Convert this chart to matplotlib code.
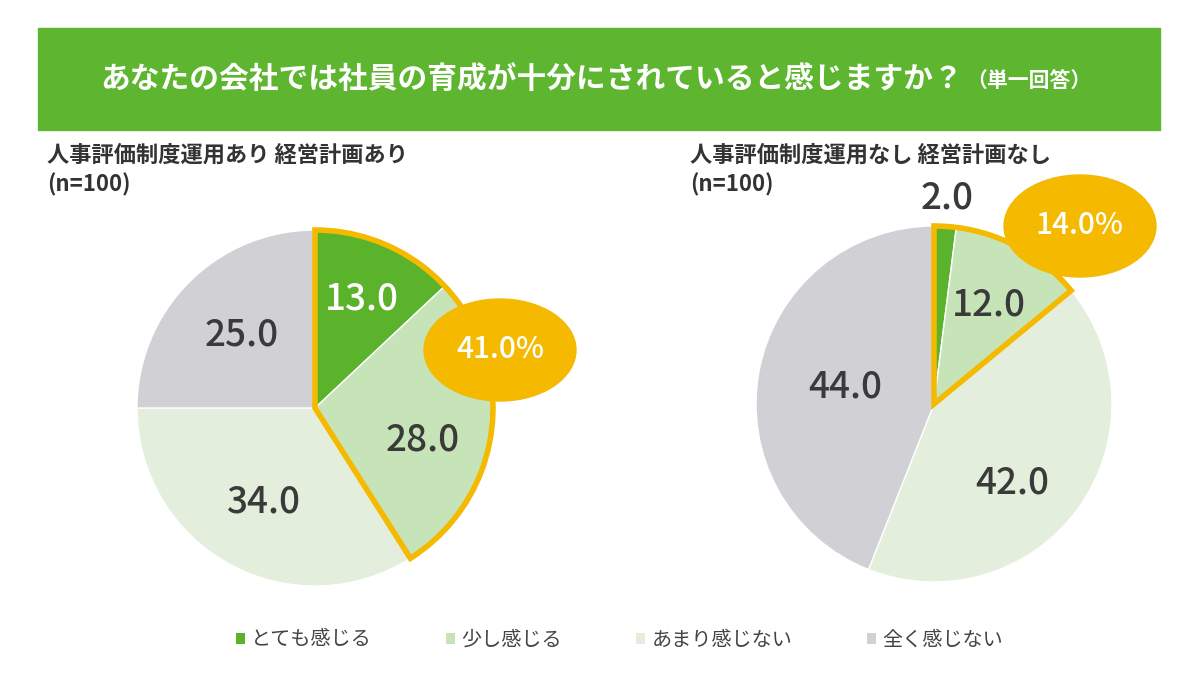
import numpy as np
import matplotlib
matplotlib.use('Agg')
import matplotlib.pyplot as plt
from matplotlib.patches import Rectangle, Wedge, Ellipse, Patch

plt.rcParams['font.family'] = ['Noto Sans CJK JP', 'DejaVu Sans']

# データ
title = 'あなたの会社では社員の育成が十分にされていると感じますか？'
title_note = '（単一回答）'
categories = ['とても感じる', '少し感じる', 'あまり感じない', '全く感じない']
group_names = ['人事評価制度運用あり 経営計画あり', '人事評価制度運用なし 経営計画なし']
sample_sizes = [100, 100]
with_system = [13.0, 28.0, 34.0, 25.0]
without_system = [2.0, 12.0, 42.0, 44.0]

# スタイル
colors = ['#5BB32B', '#C6E4B8', '#E3EFDC', '#D1D0D5']
green = '#5DB530'
yellow = '#F5B900'
text_dark = '#3A3A3A'

W, H = 1200, 675
fig = plt.figure(figsize=(12, 6.75), dpi=100)
ax = fig.add_axes([0, 0, 1, 1])


def py(y):
    # 画像のピクセル座標 (上が0) -> データ座標
    return H - y


# タイトル帯
ax.add_patch(Rectangle((38, py(130)), 1122, 102, color=green, zorder=1))
ax.text(100, py(79), title, color='white', fontsize=21.4, fontweight='bold',
        ha='left', va='center', zorder=2)
ax.text(966, py(81), title_note, color='white', fontsize=15, fontweight='bold',
        ha='left', va='center', zorder=2)

pies = [
    dict(values=with_system, center=(315, py(408)), head=(47, 155),
         dists=[0.67, 0.63, 0.6, 0.58], shifts=[0, -9, 0, 0],
         txt_colors=['white', text_dark, text_dark, text_dark],
         bubble=(500, py(350))),
    dict(values=without_system, center=(934, py(404)), head=(690, 155),
         dists=[1.16, 0.64, 0.62, 0.51], shifts=[0, 0, -9, 0],
         txt_colors=[text_dark] * 4,
         bubble=(1080, py(226))),
]
radius = 178

for i, p in enumerate(pies):
    vals = p['values']
    wedges, _ = ax.pie(vals, colors=colors, startangle=90, counterclock=False,
                       center=p['center'], radius=radius, frame=True,
                       wedgeprops=dict(edgecolor='white', linewidth=1))
    cx, cy = p['center']
    for w, v, d, s, c in zip(wedges, vals, p['dists'], p['shifts'], p['txt_colors']):
        mid = np.deg2rad((w.theta1 + w.theta2) / 2 + s)
        ax.text(cx + d * radius * np.cos(mid), cy + d * radius * np.sin(mid),
                f'{v:.1f}', fontsize=26.5, fontweight='medium', color=c,
                ha='center', va='center', zorder=5)

    # 「感じる」合計の強調枠
    hi = vals[0] + vals[1]
    ax.add_patch(Wedge(p['center'], radius, 90 - hi * 3.6, 90, fill=False,
                       edgecolor=yellow, linewidth=4, joinstyle='miter', zorder=4))
    ax.add_patch(Ellipse(p['bubble'], 152, 102, color=yellow, zorder=6))
    ax.text(p['bubble'][0], p['bubble'][1], f'{hi:.1f}%', color='white',
            fontsize=21.5, fontweight='medium', ha='center', va='center', zorder=7)

    hx, hy = p['head']
    ax.text(hx, py(hy), group_names[i], fontsize=16, fontweight='bold',
            color='#333333', ha='left', va='center')
    ax.text(hx, py(hy + 30), f'(n={sample_sizes[i]})', fontsize=16, fontweight='bold',
            color='#333333', ha='left', va='center')

ax.set_xlim(0, W)
ax.set_ylim(0, H)
ax.set_aspect('equal')
ax.axis('off')

handles = [Patch(facecolor=c, edgecolor='none') for c in colors]
fig.legend(handles, categories, loc='center', bbox_to_anchor=(0.516, py(640) / H),
           ncol=4, frameon=False, fontsize=14.5, handlelength=0.45, handleheight=0.45,
           handletextpad=0.3, columnspacing=3.7, labelcolor='#444444')

fig.savefig('out.png', dpi=100)
